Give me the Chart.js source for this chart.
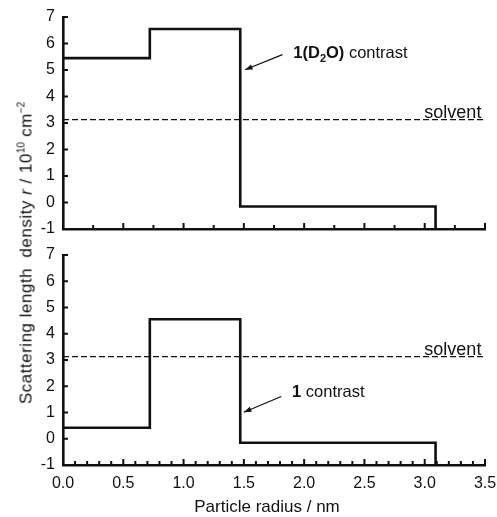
<!DOCTYPE html>
<html lang="en">
<head>
    <title>Scattering length density profiles</title>
    <meta charset="utf-8" />
    <script src="https://cdn.jsdelivr.net/npm/chart.js"></script>
    <style>
        body { margin: 0; background: #fff; }
        #wrap { position: relative; width: 497px; height: 517px; font-family: 'Liberation Sans', Arial, sans-serif; color: #111; }
        canvas { position: absolute; left: 0; }
        #top { top: 0; }
        #bottom { top: 245px; }
        .ytitle {
            position: absolute; left: 26px; top: 253px;
            transform: translate(-50%, -50%) rotate(-90deg);
            white-space: nowrap; font-size: 17px; letter-spacing: 0.5px;
        }
        .ytitle sup { font-size: 10px; vertical-align: 7px; letter-spacing: 0; }
        .xtitle {
            position: absolute; left: 267px; top: 507px;
            transform: translate(-50%, -50%);
            white-space: nowrap; font-size: 17px;
        }
    </style>
</head>
<body>
<div id="wrap">
    <canvas id="top" width="497" height="245"></canvas>
    <canvas id="bottom" width="497" height="272"></canvas>
    <div class="ytitle">Scattering length&nbsp; density <i>r</i> / 10<sup>10</sup> cm<sup>&minus;2</sup></div>
    <div class="xtitle">Particle radius / nm</div>
</div>

<script>
    // shell boundaries of the particle model (nm)
    const shellEdges = [0, 0.72, 1.47, 3.09];
    // scattering length density of each shell (10^10 cm^-2)
    const rhoD2O = [5.45, 6.55, -0.15];
    const rhoH = [0.42, 4.55, -0.15];
    const solventRho = 3.13;

    const xMin = 0, xMax = 3.5, xStep = 0.5;
    const yMin = -1, yMax = 7, yStep = 1;

    const FONT = "'Liberation Sans', Arial, sans-serif";
    const INK = '#111';

    // profile as step points, closed down to the axis floor
    function profile(rho) {
        return shellEdges.map((x, i) => ({ x: x, y: i < rho.length ? rho[i] : yMin }));
    }

    // inward tick marks, labels and arrows drawn on top of the plot
    const decorations = {
        id: 'decorations',
        afterDraw(chart, args, opts) {
            const ctx = chart.ctx;
            const xs = chart.scales.x, ys = chart.scales.y;
            const area = chart.chartArea;
            ctx.save();
            ctx.strokeStyle = INK;
            ctx.lineWidth = 2;
            // x ticks pointing up
            const n = Math.round((xMax - xMin) / opts.minorX);
            for (let i = 0; i <= n; i++) {
                const v = xMin + i * opts.minorX;
                const major = Math.abs(v / xStep - Math.round(v / xStep)) < 1e-6;
                const px = xs.getPixelForValue(v);
                ctx.beginPath();
                ctx.moveTo(px, area.bottom);
                ctx.lineTo(px, area.bottom - (major ? 6 : 4));
                ctx.stroke();
            }
            // y ticks pointing right
            for (let v = yMin; v <= yMax; v += yStep) {
                const py = ys.getPixelForValue(v);
                ctx.beginPath();
                ctx.moveTo(area.left, py);
                ctx.lineTo(area.left + 5, py);
                ctx.stroke();
            }
            // solvent label above the dashed line
            ctx.fillStyle = INK;
            ctx.font = '18px ' + FONT;
            ctx.textAlign = 'right';
            ctx.textBaseline = 'alphabetic';
            ctx.fillText('solvent', xs.getPixelForValue(3.47), ys.getPixelForValue(solventRho) - 2);

            // contrast label, bold parts first
            let tx = xs.getPixelForValue(opts.label.x);
            const ty = ys.getPixelForValue(opts.label.y) + 6;
            ctx.textAlign = 'left';
            opts.label.parts.forEach(p => {
                ctx.font = (p.bold ? 'bold ' : '') + (p.sub ? '11px ' : '16.5px ') + FONT;
                ctx.fillText(p.text, tx, ty + (p.sub ? 4 : 0));
                tx += ctx.measureText(p.text).width;
            });

            // arrow to the profile edge
            const ax0 = xs.getPixelForValue(opts.arrow.from[0]);
            const ay0 = ys.getPixelForValue(opts.arrow.from[1]);
            const ax1 = xs.getPixelForValue(opts.arrow.to[0]);
            const ay1 = ys.getPixelForValue(opts.arrow.to[1]);
            ctx.lineWidth = 1.3;
            ctx.beginPath();
            ctx.moveTo(ax0, ay0);
            ctx.lineTo(ax1, ay1);
            ctx.stroke();
            const ang = Math.atan2(ay1 - ay0, ax1 - ax0);
            ctx.beginPath();
            ctx.moveTo(ax1, ay1);
            ctx.lineTo(ax1 - 8 * Math.cos(ang - 0.35), ay1 - 8 * Math.sin(ang - 0.35));
            ctx.lineTo(ax1 - 8 * Math.cos(ang + 0.35), ay1 - 8 * Math.sin(ang + 0.35));
            ctx.closePath();
            ctx.fill();
            ctx.restore();
        }
    };

    function makePanel(id, rho, panel) {
        return new Chart(document.getElementById(id), {
            type: 'line',
            data: {
                datasets: [
                    {
                        data: profile(rho),
                        stepped: true,
                        borderColor: INK,
                        borderWidth: 2.6,
                        pointRadius: 0,
                        fill: false,
                        clip: false
                    },
                    {
                        data: [{ x: xMin, y: solventRho }, { x: xMax, y: solventRho }],
                        borderColor: INK,
                        borderWidth: 1.2,
                        borderDash: [6, 3],
                        pointRadius: 0,
                        fill: false
                    }
                ]
            },
            options: {
                responsive: false,
                animation: false,
                devicePixelRatio: 1,
                layout: { padding: { top: panel.top, right: 12, left: 0, bottom: 0 } },
                plugins: {
                    legend: { display: false },
                    tooltip: { enabled: false },
                    decorations: panel.deco
                },
                scales: {
                    x: {
                        type: 'linear',
                        min: xMin, max: xMax,
                        grid: { display: false, drawTicks: false },
                        border: { display: true, color: INK, width: 2.6 },
                        ticks: {
                            display: panel.xLabels,
                            stepSize: xStep,
                            padding: 9,
                            color: INK,
                            font: { family: FONT, size: 16 },
                            callback: v => v.toFixed(1)
                        },
                        // fixed axis box, no extra room for label overhang
                        afterFit: s => {
                            s.height = panel.xHeight;
                            s.paddingLeft = 0;
                            s.paddingRight = 0;
                        }
                    },
                    y: {
                        min: yMin, max: yMax,
                        grid: { display: false, drawTicks: false },
                        border: { display: true, color: INK, width: 2.6 },
                        ticks: {
                            stepSize: yStep,
                            padding: 8,
                            color: INK,
                            font: { family: FONT, size: 16 }
                        },
                        afterFit: s => {
                            s.width = 63;
                            s.paddingTop = 0;
                            s.paddingBottom = 0;
                        }
                    }
                }
            },
            plugins: [decorations]
        });
    }

    makePanel('top', rhoD2O, {
        top: 17, xHeight: 16, xLabels: false,
        deco: {
            minorX: 0.25,
            label: { x: 1.91, y: 5.69, parts: [
                { text: '1(D', bold: true }, { text: '2', bold: true, sub: true },
                { text: 'O)', bold: true }, { text: ' contrast' }
            ] },
            arrow: { from: [1.82, 5.58], to: [1.51, 5.01] }
        }
    });

    makePanel('bottom', rhoH, {
        top: 10, xHeight: 52, xLabels: true,
        deco: {
            minorX: 0.1,
            label: { x: 1.90, y: 1.82, parts: [
                { text: '1', bold: true }, { text: ' contrast' }
            ] },
            arrow: { from: [1.81, 1.61], to: [1.50, 1.01] }
        }
    });
</script>
</body>
</html>
